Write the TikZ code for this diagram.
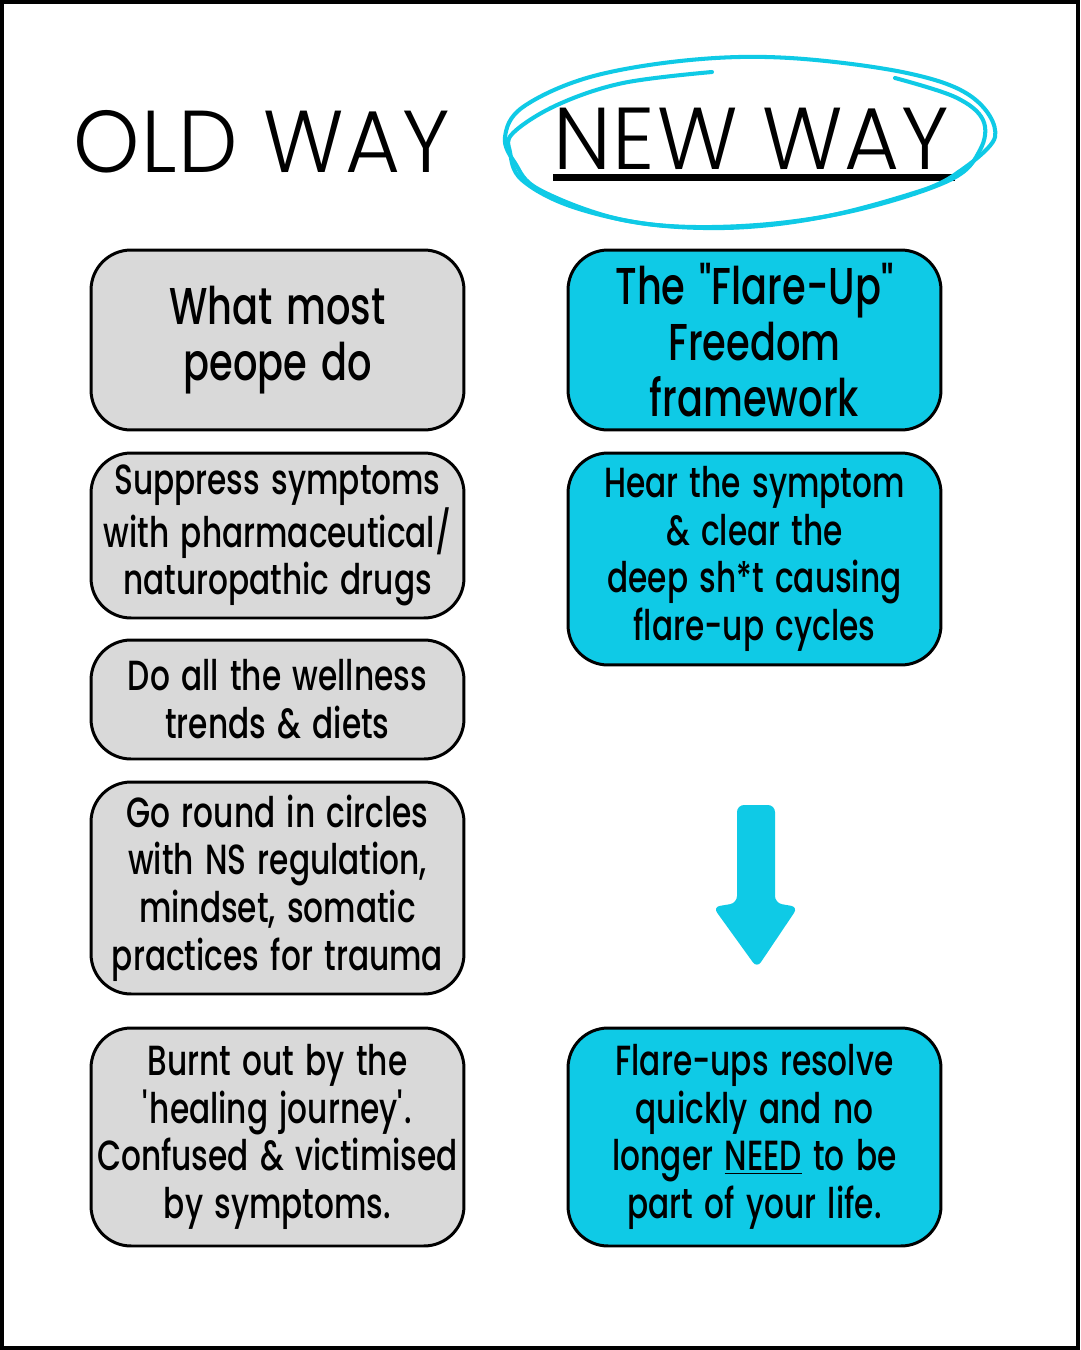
\documentclass[tikz,border=0pt]{standalone}
\usepackage{fontspec}
\newfontfamily\boxfont{Poppins Medium}[FakeStretch=0.74,WordSpace=1.4]
\newfontfamily\titlefont{Poppins Light}[LetterSpace=2,FakeStretch=0.96]
\definecolor{boxgray}{HTML}{D9D9D9}
\definecolor{cyanbox}{HTML}{0FCAE6}
\tikzset{
  basebox/.style={draw=black, line width=1.7pt, rounded corners=0.8cm,
    minimum width=7.46cm, align=center, inner sep=0pt,
    font=\boxfont\fontsize{24}{27.2}\selectfont},
  oldbox/.style={basebox, fill=boxgray},
  newbox/.style={basebox, fill=cyanbox},
  bigtext/.style={font=\boxfont\fontsize{29.5}{31.7}\selectfont},
  titletext/.style={anchor=base west, inner sep=0pt, font=\titlefont\fontsize{50}{60}\selectfont},
  scribble/.style={draw=cyanbox, line width=2.3pt, line cap=round, line join=round}
}
\begin{document}
\begin{tikzpicture}[x=0.02cm,y=-0.02cm]
\useasboundingbox (0,0) rectangle (1080,1350);
\fill[white] (0,0) rectangle (1080,1350);
\draw[line width=2.3pt] (2,2) rectangle (1078,1348);

% titles
\node[titletext] (old) at (73,172) {OLD WAY};
\node[titletext] (new) at (553,169) {NEW WAY};
\fill (553,174) rectangle (955,181);

% scribbled loop around NEW WAY
\draw[scribble] plot[smooth, tension=0.6] coordinates {
  (712,72) (623,83) (557,105) (513,133) (510,152) (522,180) (573,207)
  (657,225) (757,225) (857,210) (950,180) (980,150) (983,120) (955,97) (895,78)};
\draw[scribble] plot[smooth, tension=0.6] coordinates {
  (957,173) (995,137) (972,97) (907,73) (790,58) (690,60) (590,77)
  (523,107) (505,137) (515,163) (540,190) (623,220) (723,228) (823,217) (923,190) (957,173)};

% left column
\node[oldbox, minimum height=3.6cm, bigtext] (l1) at (277.5,340) {What most\\peope do};
\node[oldbox, minimum height=3.3cm] (l2) at (277.5,535.5) {Suppress symptoms\\with pharmaceutical/\\naturopathic drugs};
\node[oldbox, minimum height=2.38cm] (l3) at (277.5,699.5) {Do all the wellness\\trends \& diets};
\node[oldbox, minimum height=4.24cm] (l4) at (277.5,888) {Go round in circles\\with NS regulation,\\mindset, somatic\\practices for trauma};
\node[oldbox, minimum height=4.36cm] (l5) at (277.5,1137) {Burnt out by the\\\textquotesingle healing journey\textquotesingle.\\Confused \& victimised\\by symptoms.};

% right column
\node[newbox, minimum height=3.6cm, bigtext] (r1) at (754.5,340) {The "Flare-Up"\\Freedom\\framework};
\node[newbox, minimum height=4.24cm] (r2) at (754.5,559) {Hear the symptom\\\& clear the\\deep sh*t causing\\flare-up cycles};
\node[newbox, minimum height=4.36cm] (r3) at (754.5,1137) {Flare-ups resolve\\quickly and no\\longer \underline{NEED} to be\\part of your life.};

% arrow
\fill[cyanbox, rounded corners=4pt] (737,805) -- (775,805) -- (775,903) -- (798,907)
  -- (757,968) -- (713,907) -- (737,903) -- cycle;
\end{tikzpicture}
\end{document}
